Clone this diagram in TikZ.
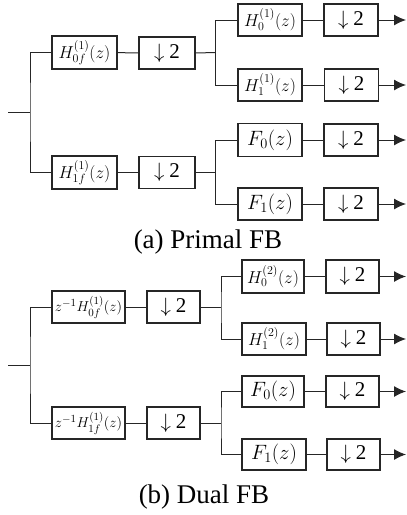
\documentclass[tikz,border=0pt]{standalone}
\usepackage{fontspec}
\setmainfont{Liberation Serif}
\usetikzlibrary{arrows.meta}
\newcommand{\dtwo}{$\downarrow$\hspace{5pt}2}
\begin{document}
\begin{tikzpicture}[x=1pt,y=-1pt,
  blk/.style={draw=black!85,line width=1.1pt,inner sep=0pt,minimum height=32pt},
  lbl/.style={blk,font=\fontsize{18}{21}\selectfont},
  flbl/.style={blk,font=\fontsize{20}{24}\selectfont},
  zlbl/.style={blk,font=\fontsize{15.5}{18}\selectfont,minimum width=73pt},
  dn/.style={blk,font=\fontsize{21}{25}\selectfont,minimum width=54pt},
  wire/.style={draw=black!85,line width=1pt},
  outarrow/.style={wire,-{Latex[length=12pt,width=11pt]}},
  captxt/.style={font=\fontsize{27}{32}\selectfont}]
\useasboundingbox (0,0) rectangle (407,515);
% ---------- (a) Primal FB ----------
\coordinate (ain) at (8,112);
\coordinate (as) at (30,112);
\node[lbl,minimum width=65pt,minimum height=33pt] (ah0f) at (84.5,52.5) {$H_{0f}^{(1)}(z)$};
\node[dn,minimum width=56pt] (ad1) at (167,53) {\dtwo};
\node[lbl,minimum width=65pt,minimum height=33pt] (ah1f) at (84.5,172.5) {$H_{1f}^{(1)}(z)$};
\node[dn,minimum width=56pt] (ad2) at (167,172.5) {\dtwo};
\coordinate (as1) at (215.5,52.5);
\coordinate (as2) at (215.5,172.5);
\node[lbl,minimum width=64pt] (ah0) at (270,20) {$H_{0}^{(1)}(z)$};
\node[dn] (ad3) at (351,20) {\dtwo};
\node[lbl,minimum width=64pt] (ah1) at (270,85) {$H_{1}^{(1)}(z)$};
\node[dn] (ad4) at (351.5,85) {\dtwo};
\node[flbl,minimum width=64pt,minimum height=33pt] (af0) at (270,140) {$F_0(z)$};
\node[dn] (ad5) at (351,140) {\dtwo};
\node[flbl,minimum width=64pt] (af1) at (270,204) {$F_1(z)$};
\node[dn] (ad6) at (351,204) {\dtwo};
\coordinate (ao1) at (406,20);
\coordinate (ao2) at (406,85);
\coordinate (ao3) at (406,140);
\coordinate (ao4) at (406,204);
\draw[wire] (ain) -- (as);
\draw[wire] (ah0f.west) -| (as) |- (ah1f.west);
\draw[wire] (ah0f) -- (ad1);
\draw[wire] (ah1f) -- (ad2);
\draw[wire] (ad1.east) -- (as1);
\draw[wire] (ad2.east) -- (as2);
\draw[wire] (ah0.west) -| (as1) |- (ah1.west);
\draw[wire] (af0.west) -| (as2) |- (af1.west);
\draw[wire] (ah0) -- (ad3);
\draw[wire] (ah1) -- (ad4);
\draw[wire] (af0) -- (ad5);
\draw[wire] (af1) -- (ad6);
\draw[outarrow] (ad3.east) -- (ao1);
\draw[outarrow] (ad4.east) -- (ao2);
\draw[outarrow] (ad5.east) -- (ao3);
\draw[outarrow] (ad6.east) -- (ao4);
\node[captxt] (capa) at (208,242) {(a) Primal FB};
% ---------- (b) Dual FB ----------
\coordinate (bin) at (8,365);
\coordinate (bs) at (30,365);
\node[zlbl] (bh0f) at (88.5,307) {$z^{-1}H_{0f}^{(1)}(z)$};
\node[dn,minimum width=53pt] (bd1) at (173.5,307) {\dtwo};
\node[zlbl] (bh1f) at (88.5,423) {$z^{-1}H_{1f}^{(1)}(z)$};
\node[dn,minimum width=53pt] (bd2) at (173.5,423) {\dtwo};
\coordinate (bs1) at (221,307);
\coordinate (bs2) at (221,423);
\node[lbl,minimum width=62pt,minimum height=33pt] (bh0) at (273,276.5) {$H_{0}^{(2)}(z)$};
\node[dn,minimum width=53pt,minimum height=33pt] (bd3) at (352.5,276.5) {\dtwo};
\node[lbl,minimum width=64pt] (bh1) at (274,339) {$H_{1}^{(2)}(z)$};
\node[dn,minimum width=53pt] (bd4) at (353.5,339) {\dtwo};
\node[flbl,minimum width=62pt,minimum height=31pt] (bf0) at (273,391.5) {$F_0(z)$};
\node[dn,minimum width=53pt,minimum height=31pt] (bd5) at (352.5,391.5) {\dtwo};
\node[flbl,minimum width=64pt,minimum height=31pt] (bf1) at (274,454.5) {$F_1(z)$};
\node[dn,minimum width=53pt,minimum height=31pt] (bd6) at (353.5,454.5) {\dtwo};
\coordinate (bo1) at (406,276.5);
\coordinate (bo2) at (406,339);
\coordinate (bo3) at (406,391.5);
\coordinate (bo4) at (406,454.5);
\draw[wire] (bin) -- (bs);
\draw[wire] (bh0f.west) -| (bs) |- (bh1f.west);
\draw[wire] (bh0f) -- (bd1);
\draw[wire] (bh1f) -- (bd2);
\draw[wire] (bd1.east) -- (bs1);
\draw[wire] (bd2.east) -- (bs2);
\draw[wire] (bh0.west) -| (bs1) |- (bh1.west);
\draw[wire] (bf0.west) -| (bs2) |- (bf1.west);
\draw[wire] (bh0) -- (bd3);
\draw[wire] (bh1) -- (bd4);
\draw[wire] (bf0) -- (bd5);
\draw[wire] (bf1) -- (bd6);
\draw[outarrow] (bd3.east) -- (bo1);
\draw[outarrow] (bd4.east) -- (bo2);
\draw[outarrow] (bd5.east) -- (bo3);
\draw[outarrow] (bd6.east) -- (bo4);
\node[captxt] (capb) at (204,497) {(b) Dual FB};
\end{tikzpicture}
\end{document}
